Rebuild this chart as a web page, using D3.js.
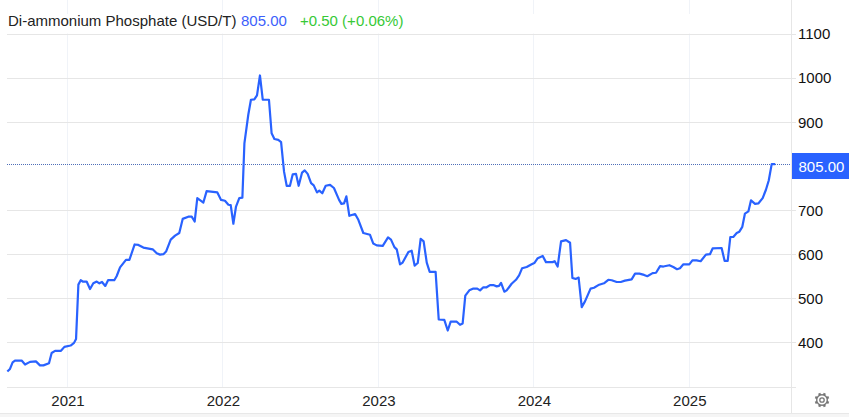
<!DOCTYPE html>
<html>
<head>
<meta charset="utf-8">
<script src="https://cdn.jsdelivr.net/npm/d3@7.9.0/dist/d3.min.js"></script>
<style>
  html, body { margin: 0; padding: 0; background: #fff; }
  text { font-family: "Liberation Sans", Arial, sans-serif; }
</style>
</head>
<body>
<div id="chart"></div>
<script>
const yearTicks = [2021, 2022, 2023, 2024, 2025];
const priceTicks = [300, 400, 500, 600, 700, 800, 900, 1000, 1100];
const lastPrice = 805;

// decimal years
const dates = [
  2020.613, 2020.630, 2020.647, 2020.662, 2020.705, 2020.727, 2020.759, 2020.797, 2020.823, 2020.845,
  2020.881, 2020.898, 2020.920, 2020.958, 2020.980, 2021.020, 2021.042, 2021.055, 2021.070, 2021.085,
  2021.098, 2021.123, 2021.145, 2021.166, 2021.188, 2021.205, 2021.222, 2021.243, 2021.261, 2021.301,
  2021.316, 2021.338, 2021.376, 2021.398, 2021.432, 2021.456, 2021.488, 2021.548, 2021.574, 2021.595,
  2021.617, 2021.634, 2021.664, 2021.692, 2021.719, 2021.741, 2021.777, 2021.799, 2021.818, 2021.835,
  2021.874, 2021.895, 2021.964, 2021.988, 2022.013, 2022.035, 2022.050, 2022.067, 2022.084, 2022.105,
  2022.125, 2022.138, 2022.163, 2022.180, 2022.202, 2022.219, 2022.238, 2022.256, 2022.296, 2022.313,
  2022.331, 2022.356, 2022.374, 2022.393, 2022.410, 2022.431, 2022.449, 2022.470, 2022.487, 2022.509,
  2022.526, 2022.545, 2022.567, 2022.584, 2022.605, 2022.620, 2022.639, 2022.661, 2022.689, 2022.714,
  2022.747, 2022.762, 2022.779, 2022.794, 2022.813, 2022.850, 2022.871, 2022.903, 2022.946, 2022.967,
  2022.989, 2023.028, 2023.062, 2023.081, 2023.103, 2023.118, 2023.139, 2023.156, 2023.193, 2023.214,
  2023.233, 2023.253, 2023.272, 2023.291, 2023.311, 2023.330, 2023.368, 2023.388, 2023.424, 2023.446,
  2023.465, 2023.504, 2023.525, 2023.542, 2023.559, 2023.585, 2023.611, 2023.636, 2023.654, 2023.675,
  2023.696, 2023.718, 2023.739, 2023.761, 2023.776, 2023.789, 2023.810, 2023.825, 2023.857, 2023.885,
  2023.905, 2023.924, 2023.954, 2023.986, 2024.003, 2024.025, 2024.057, 2024.078, 2024.121, 2024.134,
  2024.153, 2024.175, 2024.207, 2024.233, 2024.248, 2024.269, 2024.288, 2024.308, 2024.329, 2024.365,
  2024.387, 2024.415, 2024.451, 2024.479, 2024.501, 2024.533, 2024.559, 2024.586, 2024.629, 2024.651,
  2024.679, 2024.709, 2024.730, 2024.764, 2024.786, 2024.812, 2024.833, 2024.872, 2024.897, 2024.921,
  2024.940, 2024.962, 2025.000, 2025.020, 2025.047, 2025.073, 2025.107, 2025.133, 2025.150, 2025.208,
  2025.227, 2025.247, 2025.264, 2025.283, 2025.305, 2025.322, 2025.341, 2025.358, 2025.380, 2025.397,
  2025.423, 2025.444, 2025.472, 2025.493, 2025.511, 2025.530, 2025.553
];

const prices = [
  335, 341, 356, 360, 360, 351, 357, 358, 349, 349,
  354, 377, 382, 382, 391, 394, 400, 409, 532, 542,
  539, 539, 522, 535, 539, 535, 538, 529, 542, 542,
  551, 571, 588, 588, 623, 622, 616, 612, 603, 600,
  601, 607, 634, 643, 649, 681, 686, 686, 675, 728,
  718, 744, 741, 724, 722, 713, 712, 670, 709, 728,
  729, 852, 917, 951, 952, 961, 1006, 951, 951, 875,
  862, 860, 855, 788, 756, 756, 782, 783, 756, 786,
  791, 783, 762, 757, 741, 745, 739, 756, 758, 751,
  724, 715, 716, 732, 688, 692, 679, 649, 645, 625,
  621, 620, 639, 634, 617, 612, 578, 582, 606, 609,
  575, 581, 636, 630, 582, 561, 561, 453, 452, 428,
  448, 448, 441, 444, 507, 519, 523, 523, 519, 526,
  526, 531, 531, 528, 529, 536, 516, 519, 534, 543,
  553, 569, 572, 578, 581, 592, 597, 583, 583, 585,
  573, 630, 633, 627, 547, 545, 548, 481, 494, 523,
  525, 531, 535, 543, 542, 538, 538, 541, 544, 557,
  557, 554, 551, 558, 559, 574, 573, 576, 572, 567,
  569, 578, 578, 587, 587, 585, 600, 601, 614, 615,
  586, 586, 640, 640, 649, 652, 663, 693, 698, 723,
  715, 716, 728, 747, 768, 805, 805
];

const width = 849, height = 417;
const plotLeft = 7, plotRight = 791, plotTop = 34, plotBottom = 387;

const blue = '#2962ff';
const gridH = '#e6e6e6';
const gridV = '#f0f3f8';
const labelFont = 15;

const x = d3.scaleLinear().domain([2021, 2025]).range([67.5, 689.3]);
const y = d3.scaleLinear().domain([300, 1100]).range([plotBottom, plotTop]);

const svg = d3.select('#chart').append('svg')
  .attr('width', width)
  .attr('height', height)
  .style('display', 'block');

// vertical grid
svg.append('g')
  .selectAll('line')
  .data(yearTicks)
  .join('line')
  .attr('x1', d => x(d)).attr('x2', d => x(d))
  .attr('y1', 0).attr('y2', plotBottom)
  .attr('stroke', gridV)
  .attr('shape-rendering', 'crispEdges');

// horizontal grid
svg.append('g')
  .selectAll('line')
  .data(priceTicks.filter(d => d !== 800))
  .join('line')
  .attr('x1', plotLeft).attr('x2', 796)
  .attr('y1', d => y(d)).attr('y2', d => y(d))
  .attr('stroke', gridH)
  .attr('shape-rendering', 'crispEdges');

// white band behind the title
svg.append('rect')
  .attr('x', 0).attr('y', 14)
  .attr('width', plotRight).attr('height', 19.5)
  .attr('fill', '#fff');

// right border and bottom strip
svg.append('line')
  .attr('x1', plotRight + 0.5).attr('x2', plotRight + 0.5)
  .attr('y1', 0).attr('y2', 413)
  .attr('stroke', gridH);
svg.append('rect')
  .attr('x', 0).attr('y', 413)
  .attr('width', width).attr('height', 4)
  .attr('fill', '#f5f5f5');
svg.append('line')
  .attr('x1', 0).attr('x2', width)
  .attr('y1', 413.5).attr('y2', 413.5)
  .attr('stroke', '#e8e8e8');

// last price line
svg.append('line')
  .attr('x1', plotLeft).attr('x2', plotRight)
  .attr('y1', Math.round(y(lastPrice)) + 0.5).attr('y2', Math.round(y(lastPrice)) + 0.5)
  .attr('stroke', '#4f6fb8')
  .attr('stroke-dasharray', '1 1');

const line = d3.line()
  .x((d, i) => x(dates[i]))
  .y(d => y(d));

svg.append('path')
  .datum(prices)
  .attr('d', line)
  .attr('fill', 'none')
  .attr('stroke', blue)
  .attr('stroke-width', 2.2)
  .attr('stroke-linejoin', 'round');

// axes
const yAxis = d3.axisRight(y)
  .tickValues(priceTicks.filter(d => d >= 400 && d !== 800))
  .tickSize(0)
  .tickPadding(7)
  .tickFormat(d3.format('d'));
const yG = svg.append('g').attr('transform', `translate(${plotRight},0)`).call(yAxis);
yG.select('.domain').remove();
yG.selectAll('text')
  .attr('font-size', labelFont)
  .attr('font-family', '"Liberation Sans", Arial, sans-serif')
  .attr('fill', '#111');

const xAxis = d3.axisBottom(x)
  .tickValues(yearTicks)
  .tickSize(0)
  .tickPadding(8.5)
  .tickFormat(d3.format('d'));
const xG = svg.append('g').attr('transform', `translate(0,${plotBottom})`).call(xAxis);
xG.select('.domain').remove();
xG.selectAll('text')
  .attr('font-size', labelFont)
  .attr('font-family', '"Liberation Sans", Arial, sans-serif')
  .attr('fill', '#222');

// price tag
svg.append('rect')
  .attr('x', 792).attr('y', 153)
  .attr('width', 57).attr('height', 26)
  .attr('fill', blue);
svg.append('text')
  .attr('x', 798.5).attr('y', 171.5)
  .attr('font-size', labelFont)
  .attr('fill', '#fff')
  .text(lastPrice.toFixed(2));

// title row
const titleParts = [
  { text: 'Di-ammonium Phosphate (USD/T)', x: 8, fill: '#222' },
  { text: '805.00', x: 241, fill: '#3d5ffb' },
  { text: '+0.50 (+0.06%)', x: 300, fill: '#36c936' }
];
svg.append('g')
  .selectAll('text')
  .data(titleParts)
  .join('text')
  .attr('x', d => d.x)
  .attr('y', 26)
  .attr('font-size', labelFont)
  .attr('fill', d => d.fill)
  .text(d => d.text);

// settings gear
const gear = svg.append('g').attr('transform', 'translate(822,400)');
const teeth = d3.range(8);
gear.selectAll('line')
  .data(teeth)
  .join('line')
  .attr('x1', d => 5 * Math.cos(d * Math.PI / 4 + Math.PI / 8))
  .attr('y1', d => 5 * Math.sin(d * Math.PI / 4 + Math.PI / 8))
  .attr('x2', d => 7.3 * Math.cos(d * Math.PI / 4 + Math.PI / 8))
  .attr('y2', d => 7.3 * Math.sin(d * Math.PI / 4 + Math.PI / 8))
  .attr('stroke', '#777')
  .attr('stroke-width', 2.4);
gear.append('circle').attr('r', 5.3).attr('fill', '#fff').attr('stroke', '#777').attr('stroke-width', 1.4);
gear.append('circle').attr('r', 2.2).attr('fill', '#fff').attr('stroke', '#777').attr('stroke-width', 1.3);
</script>
</body>
</html>
